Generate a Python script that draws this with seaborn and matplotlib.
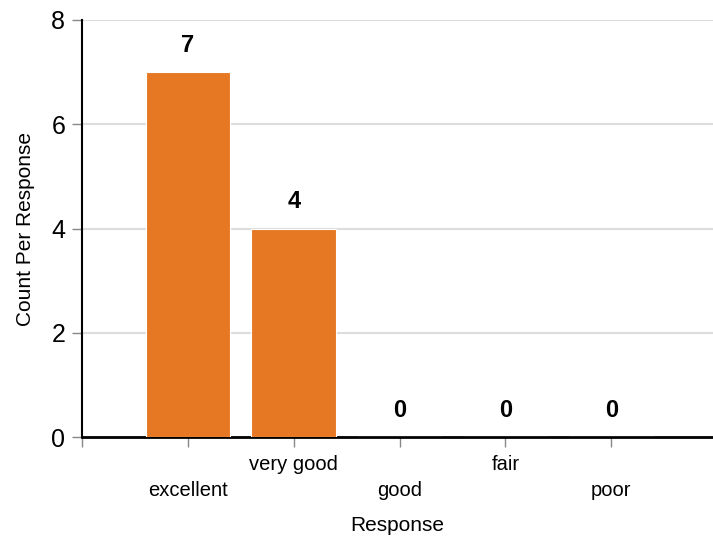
import matplotlib
matplotlib.use("Agg")
import matplotlib.pyplot as plt
import seaborn as sns
import pandas as pd

# survey responses
responses = ["excellent", "very good", "good", "fair", "poor"]
counts = [7, 4, 0, 0, 0]

bar_color = "#e67823"

sns.set_style("white", {"text.color": "black", "axes.labelcolor": "black",
                        "xtick.color": "black", "ytick.color": "black",
                        "xtick.bottom": True, "ytick.left": True})
plt.rcParams["font.family"] = ["Liberation Sans", "DejaVu Sans"]

df = pd.DataFrame({"Response": responses, "Count": counts})

fig = plt.figure(figsize=(7.13, 5.39), dpi=100)
ax = fig.add_axes([0.115, 0.189, 0.885, 0.774])

sns.barplot(data=df, x="Response", y="Count", color=bar_color, saturation=1,
            width=0.8, edgecolor="white", linewidth=0.8, ax=ax, zorder=3)

ax.set_ylim(0, 8)
ax.set_xlim(-1, 4.96)
ax.set_yticks([0, 2, 4, 6, 8])
ax.yaxis.grid(True, color="#dddddd", linewidth=1.5, zorder=0)
ax.set_axisbelow(True)

# value labels above bars
for i, c in enumerate(counts):
    ax.annotate(str(c), (i, c), xytext=(0, 11), textcoords="offset points",
                ha="center", va="bottom", fontsize=17, fontweight="bold")

# ticks: one extra at left edge, staggered labels
ax.set_xticks([-1, 0, 1, 2, 3, 4])
labels = [""] + [("\n" + r if k % 2 == 0 else r) for k, r in enumerate(responses)]
ax.set_xticklabels(labels, fontsize=14.5)
for lab in ax.get_xticklabels():
    lab.set_linespacing(1.45)

ax.tick_params(axis="x", bottom=True, length=7, color="#888888", width=1, pad=6)
ax.tick_params(axis="y", left=True, length=7, color="#888888", width=1,
               labelsize=18, pad=5)

for s in ["top", "right"]:
    ax.spines[s].set_visible(False)
ax.spines["left"].set_color("black")
ax.spines["left"].set_linewidth(1.5)
ax.spines["bottom"].set_color("black")
ax.spines["bottom"].set_linewidth(2)

ax.set_xlabel("Response", fontsize=15)
ax.set_ylabel("Count Per Response", fontsize=15, labelpad=12)
ax.xaxis.set_label_coords(0.5, -0.188)

fig.savefig("out.png", dpi=100)
